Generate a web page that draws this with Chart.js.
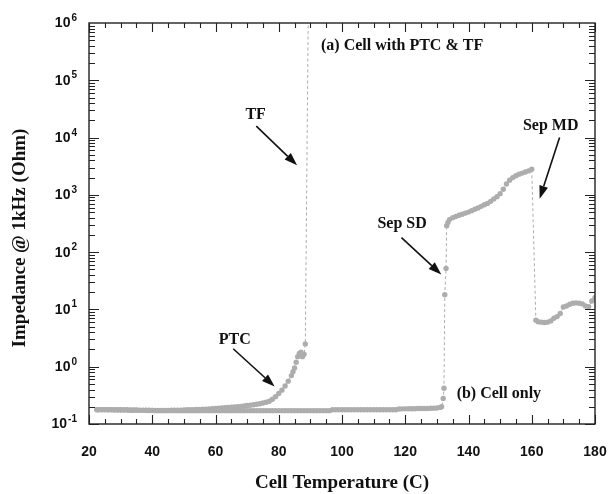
<!DOCTYPE html>
<html><head><meta charset="utf-8">
<script src="https://cdn.jsdelivr.net/npm/chart.js@4.4.0/dist/chart.umd.min.js"></script>
<style>html,body{margin:0;padding:0;background:#fff;}#wrap{width:609px;height:494px;}</style>
</head><body><div id="wrap"><canvas id="c" width="609" height="494"></canvas></div>
<script>
// ---- data ----
const tempA = [22.5,
  23,24,25,26,27,28,29,30,31,32,
  33,34,35,36,37,38,39,40,41,42,
  43,44,45,46,47,48,49,50,51,52,
  53,54,55,56,57,58,59,60,61,62,
  63,64,65,66,67,68,69,70,71,72,
  73,74,75,76,77,78,79,80,81,82,
  83,84,84.5,85,85.5,86,86.5,87,87.5,88,
  88.4,89.3];
const impA = [0.178,
  0.178,0.178,0.178,0.178,0.178,0.177,0.177,0.177,0.177,0.177,
  0.176,0.176,0.176,0.175,0.175,0.174,0.174,0.173,0.173,0.173,
  0.173,0.173,0.173,0.174,0.174,0.175,0.175,0.176,0.177,0.178,
  0.178,0.179,0.18,0.181,0.182,0.183,0.185,0.186,0.188,0.19,
  0.192,0.194,0.196,0.198,0.2,0.203,0.206,0.21,0.213,0.217,
  0.221,0.226,0.232,0.24,0.25,0.27,0.3,0.34,0.39,0.46,
  0.56,0.7,0.82,0.95,1.2,1.5,1.7,1.8,1.5,1.65,
  2.5,1e6];
const tempB = [22.5,
  23,24,25,26,27,28,29,30,31,32,
  33,34,35,36,37,38,39,40,41,42,
  43,44,45,46,47,48,49,50,51,52,
  53,54,55,56,57,58,59,60,61,62,
  63,64,65,66,67,68,69,70,71,72,
  73,74,75,76,77,78,79,80,81,82,
  83,84,85,86,87,88,89,90,91,92,
  93,94,95,96,97,98,99,100,101,102,
  103,104,105,106,107,108,109,110,111,112,
  113,114,115,116,117,118,119,120,121,122,
  123,124,125,126,127,128,129,130,131,131.5,
  132,132.25,132.5,132.9,133.1,133.5,134,135,136,137,
  138,139,140,141,142,143,144,145,146,147,
  148,149,150,151,152,153,154,155,156,157,
  158,159,160,161.3,162,163,164,165,166,167,
  168,169,170,171,172,173,174,175,176,177,
  178,179,180];
const impB = [0.178,
  0.178,0.178,0.178,0.177,0.177,0.176,0.176,0.176,0.175,0.175,
  0.174,0.174,0.174,0.173,0.173,0.172,0.172,0.172,0.171,0.171,
  0.171,0.171,0.171,0.171,0.171,0.171,0.171,0.171,0.171,0.171,
  0.171,0.171,0.171,0.171,0.171,0.171,0.171,0.171,0.171,0.171,
  0.171,0.171,0.171,0.171,0.171,0.171,0.171,0.171,0.171,0.171,
  0.171,0.171,0.171,0.171,0.171,0.171,0.171,0.171,0.171,0.171,
  0.171,0.171,0.171,0.171,0.171,0.171,0.171,0.171,0.171,0.171,
  0.171,0.171,0.171,0.171,0.177,0.177,0.177,0.177,0.177,0.177,
  0.177,0.177,0.177,0.177,0.177,0.177,0.177,0.177,0.177,0.177,
  0.177,0.177,0.177,0.177,0.177,0.183,0.184,0.184,0.185,0.185,
  0.185,0.186,0.186,0.187,0.187,0.188,0.189,0.19,0.195,0.2,
  0.28,0.42,18,52,290,330,370,400,420,440,
  460,480,500,530,560,590,630,670,710,770,
  850,930,1050,1250,1550,1800,2000,2150,2300,2400,
  2500,2620,2800,6.5,6.1,6.0,5.9,6.0,6.3,7.0,
  7.5,8.5,11,11.5,12.3,12.8,13,12.8,12.5,11.5,
  11.2,14,16];
const xTickValues = [20,40,60,80,100,120,140,160,180];
const yTickExponents = [-1,0,1,2,3,4,5,6];
const seriesNames = ['(a) Cell with PTC & TF','(b) Cell only'];
const xTitle = 'Cell Temperature (C)';
const yTitle = 'Impedance @ 1kHz (Ohm)';

// annotation placement in data coordinates
const notes = [
  {text:'TF', x:72.7, y:Math.pow(10,4.405)},
  {text:seriesNames[0], x:119.0, y:Math.pow(10,5.593)},
  {text:'Sep MD', x:166.0, y:Math.pow(10,4.213)},
  {text:'Sep SD', x:119.0, y:Math.pow(10,2.485)},
  {text:seriesNames[1], x:149.6, y:Math.pow(10,-0.467)},
  {text:'PTC', x:66.1, y:Math.pow(10,0.476)}
];
const arrows = [
  {x1:72.9, y1:Math.pow(10,4.201), x2:85.8, y2:Math.pow(10,3.515)},
  {x1:168.8, y1:Math.pow(10,4.0), x2:162.5, y2:Math.pow(10,2.933)},
  {x1:118.8, y1:Math.pow(10,2.252), x2:131.4, y2:Math.pow(10,1.611)},
  {x1:65.6, y1:Math.pow(10,0.314), x2:78.7, y2:Math.pow(10,-0.345)}
];

const GRAY = '#adadad';
const SANS = '"Liberation Sans", Arial, sans-serif';
const SERIF = '"Liberation Serif", "Times New Roman", serif';

function toPts(xs, ys){ return xs.map((x,i)=>({x:x, y:ys[i]})); }

const frame = {
  id:'frame',
  afterDraw(chart){
    const ctx = chart.ctx, a = chart.chartArea;
    const xs = chart.scales.x, ys = chart.scales.y;
    ctx.save();
    ctx.strokeStyle = '#222'; ctx.lineWidth = 1.4;
    ctx.strokeRect(a.left, a.top, a.right-a.left, a.bottom-a.top);
    ctx.lineWidth = 1.1;
    ctx.beginPath();
    for (let v=20; v<=180; v+=5){
      const px = Math.round(xs.getPixelForValue(v))+0.5;
      const len = (v%20===0) ? 9 : 5;
      ctx.moveTo(px, a.bottom); ctx.lineTo(px, a.bottom-len);
      ctx.moveTo(px, a.top); ctx.lineTo(px, a.top+len);
    }
    for (let e=-1; e<=5; e++){
      for (let m=1; m<=9; m++){
        const py = Math.round(ys.getPixelForValue(m*Math.pow(10,e)))+0.5;
        const len = (m===1) ? 10 : 6;
        ctx.moveTo(a.left, py); ctx.lineTo(a.left+len, py);
        ctx.moveTo(a.right, py); ctx.lineTo(a.right-len, py);
      }
    }
    ctx.stroke();
    // x tick labels
    ctx.fillStyle = '#111';
    ctx.font = 'bold 14px ' + SANS;
    ctx.textAlign = 'center'; ctx.textBaseline = 'middle';
    xTickValues.forEach(v=>{ ctx.fillText(String(v), xs.getPixelForValue(v), 452); });
    // y tick labels 10^n
    yTickExponents.forEach(e=>{
      const py = ys.getPixelForValue(Math.pow(10,e));
      const ex = String(e);
      ctx.font = 'bold 10px ' + SANS;
      const we = ctx.measureText(ex).width;
      ctx.textAlign = 'right'; ctx.textBaseline = 'alphabetic';
      ctx.fillText(ex, 77, py-2);
      ctx.font = 'bold 14px ' + SANS;
      ctx.textBaseline = 'middle';
      ctx.fillText('10', 77-we-1, py+0.5);
    });
    // axis titles
    ctx.font = 'bold 19px ' + SERIF;
    ctx.textAlign = 'center'; ctx.textBaseline = 'alphabetic';
    ctx.fillText(xTitle, (a.left+a.right)/2, 488);
    ctx.save();
    ctx.translate(20, 238); ctx.rotate(-Math.PI/2);
    ctx.textBaseline = 'middle';
    ctx.fillText(yTitle, 0, 0);
    ctx.restore();
    // annotations
    ctx.font = 'bold 16px ' + SERIF;
    ctx.textAlign = 'center'; ctx.textBaseline = 'middle';
    notes.forEach(n=>{ ctx.fillText(n.text, xs.getPixelForValue(n.x), ys.getPixelForValue(n.y)); });
    ctx.strokeStyle = '#111'; ctx.fillStyle = '#111'; ctx.lineWidth = 1.6;
    arrows.forEach(r=>{
      const x1 = xs.getPixelForValue(r.x1), y1 = ys.getPixelForValue(r.y1);
      const x2 = xs.getPixelForValue(r.x2), y2 = ys.getPixelForValue(r.y2);
      const ang = Math.atan2(y2-y1, x2-x1), hl = 13, hw = 4.5;
      const bx = x2 - hl*Math.cos(ang), by = y2 - hl*Math.sin(ang);
      ctx.beginPath(); ctx.moveTo(x1,y1); ctx.lineTo(bx,by); ctx.stroke();
      ctx.beginPath();
      ctx.moveTo(x2,y2);
      ctx.lineTo(bx + hw*Math.sin(ang), by - hw*Math.cos(ang));
      ctx.lineTo(bx - hw*Math.sin(ang), by + hw*Math.cos(ang));
      ctx.closePath(); ctx.fill();
    });
    ctx.restore();
  }
};

const ds = (label, pts) => ({
  label: label, data: pts, showLine: true,
  borderColor: GRAY, borderWidth: 1, borderDash: [3,2.5],
  backgroundColor: GRAY, pointBackgroundColor: GRAY, pointBorderWidth: 0,
  pointRadius: pts.map(p => p.y >= 1e6 ? 0 : 2.7), pointStyle: 'circle'
});

new Chart(document.getElementById('c'), {
  type: 'scatter',
  data: { datasets: [ ds(seriesNames[0], toPts(tempA, impA)), ds(seriesNames[1], toPts(tempB, impB)) ] },
  options: {
    responsive: false, animation: false, devicePixelRatio: 1,
    layout: { padding: { left: 89, right: 14, top: 23, bottom: 70 } },
    plugins: { legend: { display: false }, tooltip: { enabled: false } },
    scales: {
      x: { type: 'linear', min: 20, max: 180, display: false },
      y: { type: 'logarithmic', min: 0.1, max: 1e6, display: false }
    }
  },
  plugins: [frame]
});
</script>
</body></html>
